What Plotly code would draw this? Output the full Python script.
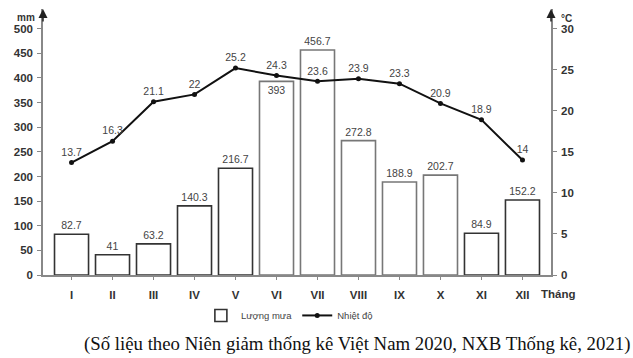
import plotly.graph_objects as go

months = ["I", "II", "III", "IV", "V", "VI", "VII", "VIII", "IX", "X", "XI", "XII"]
rain = [82.7, 41, 63.2, 140.3, 216.7, 393, 456.7, 272.8, 188.9, 202.7, 84.9, 152.2]
rain_labels = ["82.7", "41", "63.2", "140.3", "216.7", "393", "456.7", "272.8", "188.9", "202.7", "84.9", "152.2"]
temp = [13.7, 16.3, 21.1, 22, 25.2, 24.3, 23.6, 23.9, 23.3, 20.9, 18.9, 14]
temp_labels = ["13.7", "16.3", "21.1", "22", "25.2", "24.3", "23.6", "23.9", "23.3", "20.9", "18.9", "14"]
left_ticks = [0, 50, 100, 150, 200, 250, 300, 350, 400, 450, 500]
right_ticks = [0, 5, 10, 15, 20, 25, 30]

line_cols = ["#333"] * 5 + ["#777"] * 5 + ["#333"] * 2
text_pos = ["outside"] * 12
text_pos[5] = "inside"

fig = go.Figure()
fig.add_trace(go.Bar(
    x=months, y=rain, name="Lượng mưa",
    marker=dict(color="white", line=dict(color=line_cols, width=1.6)),
    text=rain_labels, textposition=text_pos, insidetextanchor="end",
    textangle=0, constraintext="none", cliponaxis=False,
    textfont=dict(family="Liberation Sans", size=10.5, color="#444"),
))
fig.add_trace(go.Scatter(
    x=months, y=temp, name="Nhiệt độ", yaxis="y2",
    mode="lines+markers+text",
    line=dict(color="#111", width=2), marker=dict(color="#111", size=5),
    text=temp_labels, textposition="top center",
    textfont=dict(family="Liberation Sans", size=10.5, color="#444"),
    cliponaxis=False,
))

tf = dict(family="Liberation Sans", size=11.5, color="#333", weight="bold")
fig.update_layout(
    width=633, height=358,
    margin=dict(l=43, r=82, t=9, b=83, autoexpand=False),
    paper_bgcolor="white", plot_bgcolor="white",
    bargap=0.17,
    showlegend=True,
    legend=dict(orientation="h", x=0.485, xanchor="center", y=-0.152, yanchor="middle",
                font=dict(family="Liberation Sans", size=9.5, color="#444"),
                traceorder="normal"),
    xaxis=dict(showline=True, linecolor="#888", linewidth=1.5, ticks="outside",
               ticklen=3, tickcolor="#888", tickfont=tf, ticklabelstandoff=5,
               showgrid=False),
    yaxis=dict(range=[0, 540], tickvals=left_ticks, showline=True, linecolor="#888",
               linewidth=1.5, ticks="outside", ticklen=4, tickcolor="#888",
               tickfont=tf, ticklabelstandoff=2,
               showgrid=False, zeroline=False),
    yaxis2=dict(range=[0, 32.4], tickvals=right_ticks, overlaying="y", side="right",
                showline=True, linecolor="#888", linewidth=1.5, ticks="outside",
                ticklen=4, tickcolor="#888", tickfont=tf, ticklabelstandoff=2,
                showgrid=False, zeroline=False),
    font=dict(family="Liberation Sans"),
)

fig.add_annotation(x=0, y=1, xref="paper", yref="paper", ax=0, ay=14, showarrow=True,
                   arrowhead=2, arrowsize=1.2, arrowwidth=1.5, arrowcolor="#222", text="")
fig.add_annotation(x=1, y=1, xref="paper", yref="paper", ax=0, ay=14, showarrow=True,
                   arrowhead=2, arrowsize=1.2, arrowwidth=1.5, arrowcolor="#222", text="")
fig.add_annotation(x=0, y=1, xref="paper", yref="paper", xanchor="right", yanchor="top",
                   xshift=-6, yshift=-1, text="mm", showarrow=False,
                   font=dict(family="Liberation Sans", size=10, color="#333", weight="bold"))
fig.add_annotation(x=1, y=1, xref="paper", yref="paper", xanchor="left", yanchor="top",
                   xshift=8, yshift=-2, text="°C", showarrow=False,
                   font=dict(family="Liberation Sans", size=10, color="#333", weight="bold"))
fig.add_annotation(x=1, y=0, xref="paper", yref="paper", xanchor="left", yanchor="middle",
                   xshift=-12, yshift=-19, text="Tháng", showarrow=False,
                   font=dict(family="Liberation Sans", size=11.5, color="#333", weight="bold"))
fig.add_annotation(x=1.16, y=-0.26, xref="paper", yref="paper", xanchor="right", yanchor="middle",
                   text="(Số liệu theo Niên giảm thống kê Việt Nam 2020, NXB Thống kê, 2021)",
                   showarrow=False,
                   font=dict(family="Liberation Serif", size=18.8, color="#111"))

fig.write_html("out.html", config={"displayModeBar": False},
               post_script="document.body.style.margin='0';")
